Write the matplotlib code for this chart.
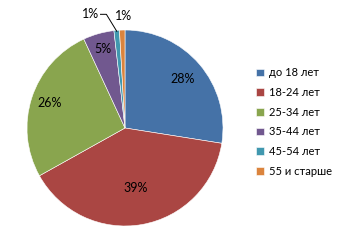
"""Круговая диаграмма распределения аудитории по возрасту."""

import numpy as np
import matplotlib

matplotlib.use("Agg")
import matplotlib.pyplot as plt

# Данные
categories = ["до 18 лет", "18-24 лет", "25-34 лет", "35-44 лет", "45-54 лет", "55 и старше"]
values = [27.5, 39.4, 26.2, 5.1, 0.9, 0.9]
labels = ["28%", "39%", "26%", "5%", "1%", "1%"]
colors = ["#4572A7", "#AA4643", "#89A54E", "#71588F", "#4198AF", "#DB843D"]
# расстояние подписи от центра (в долях радиуса) для подписей внутри
label_dist = [0.77, 0.62, 0.81, 0.84]

plt.rcParams["font.family"] = ["Lato", "DejaVu Sans"]

W, H = 351, 241
fig = plt.figure(figsize=(W / 100, H / 100), dpi=100)
cx, cy, r = 125, 128, 98
ax = fig.add_axes([(cx - r) / W, (H - cy - r) / H, 2 * r / W, 2 * r / H])

wedges, _ = ax.pie(
    values,
    colors=colors,
    startangle=90,
    counterclock=False,
    radius=1,
    wedgeprops={"edgecolor": "white", "linewidth": 0.4},
)
ax.set_xlim(-1, 1)
ax.set_ylim(-1, 1)
ax.set_aspect("equal")
ax.axis("off")

for i, w in enumerate(wedges[:4]):
    mid = np.deg2rad((w.theta1 + w.theta2) / 2)
    d = label_dist[i]
    ax.text(d * np.cos(mid), d * np.sin(mid), labels[i],
            ha="center", va="center", fontsize=9)

# маленькие сектора: подписи снаружи, у 45-54 выноска
mid = np.deg2rad((wedges[4].theta1 + wedges[4].theta2) / 2)
tx, ty = -0.26, 1.16
ax.text(tx, ty, labels[4], ha="right", va="center", fontsize=9, clip_on=False)
ax.plot([tx + 0.01, tx + 0.07, np.cos(mid) * 0.99], [ty, ty, np.sin(mid) * 0.99],
        color="black", lw=0.7, clip_on=False)
ax.text(-0.02, 1.14, labels[5], ha="center", va="center", fontsize=9, clip_on=False)

fig.legend(
    wedges,
    categories,
    loc="upper left",
    bbox_to_anchor=(252 / W, 1 - 63 / H),
    frameon=False,
    fontsize=8,
    handlelength=0.7,
    handleheight=0.7,
    handletextpad=0.4,
    labelspacing=0.78,
    borderaxespad=0,
)

fig.savefig("out.png", dpi=100)
